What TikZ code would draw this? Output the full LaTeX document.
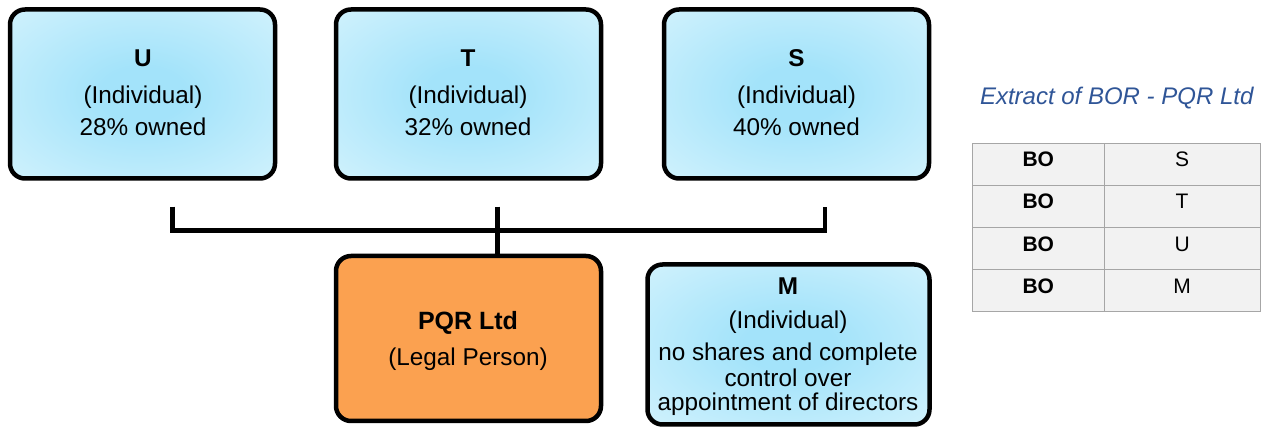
\documentclass[tikz,border=0pt]{standalone}
\usepackage{fontspec}
\setmainfont{Liberation Sans}
\usetikzlibrary{calc}

% colours
\definecolor{glowin}{RGB}{163,227,250}
\definecolor{glowout}{RGB}{228,248,254}
\definecolor{legalfill}{RGB}{251,161,80}
\definecolor{titleblue}{RGB}{47,85,151}
\definecolor{cellfill}{RGB}{242,242,242}
\definecolor{cellline}{RGB}{166,166,166}

% soft radial glow for the individual boxes
\pgfdeclareradialshading{boxglow}{\pgfpoint{0bp}{0bp}}{%
  color(0bp)=(glowin); color(8bp)=(glowin); color(48bp)=(glowout); color(72bp)=(glowout)}

\tikzset{
  boxline/.style={draw=black, line width=4.5pt, rounded corners=15pt},
  personbox/.style={boxline, shade, shading=boxglow, minimum width=265pt, minimum height=169pt},
  legalbox/.style={boxline, fill=legalfill, minimum width=265pt, minimum height=165pt},
  mbox/.style={boxline, shade, shading=boxglow, minimum width=282pt, minimum height=160pt},
  txt/.style={anchor=base, inner sep=0pt, font=\fontsize{24.3}{28}\selectfont},
  btxt/.style={txt, font=\fontsize{24.3}{28}\selectfont\bfseries},
  bus/.style={draw=black, line width=4.5pt, line cap=butt, line join=miter},
  cell/.style={draw=cellline, fill=cellfill, line width=1pt, inner sep=0pt,
    minimum height=42.1pt, text height=15pt, text depth=10pt,
    font=\fontsize{21}{24}\selectfont},
  keycell/.style={cell, minimum width=132pt, font=\fontsize{21}{24}\selectfont\bfseries},
  valcell/.style={cell, minimum width=155.7pt},
}

\begin{document}
\begin{tikzpicture}[x=1pt, y=-1pt]
\useasboundingbox (0,0) rectangle (1267,427);

% shareholders
\node[personbox] (U) at (142.5,94) {};
\node[btxt] (Uname) at (143,66.5) {U};
\node[txt] (Utype) at (143,104) {(Individual)};
\node[txt] (Ushare) at (143,135.5) {28\% owned};

\node[personbox] (T) at (468.5,94) {};
\node[btxt] (Tname) at (468,66.5) {T};
\node[txt] (Ttype) at (468,104) {(Individual)};
\node[txt] (Tshare) at (468,135.5) {32\% owned};

\node[personbox] (S) at (796.5,94) {};
\node[btxt] (Sname) at (796.5,66.5) {S};
\node[txt] (Stype) at (796.5,104) {(Individual)};
\node[txt] (Sshare) at (796.5,135.5) {40\% owned};

% the company
\node[legalbox] (P) at (468.5,338.5) {};
\node[btxt, font=\fontsize{25}{28}\selectfont\bfseries] (Pname) at (468,330) {PQR Ltd};
\node[txt] (Ptype) at (468,365.5) {(Legal Person)};

% controlling individual
\node[mbox] (M) at (788.5,344.5) {};
\node[btxt] (Mname) at (788,295) {M};
\node[txt] (Mtype) at (788,329) {(Individual)};
\node[txt] (Mdesc1) at (788,361) {no shares and complete};
\node[txt] (Mdesc2) at (788,387) {control over};
\node[txt] (Mdesc3) at (788,411) {appointment of directors};

% ownership bus
\coordinate (tickL) at (172.5,206.7);
\coordinate (busL) at (172.5,230.7);
\coordinate (tickR) at (825,206.7);
\coordinate (busR) at (825,230.7);
\coordinate (tickM) at (497.5,206.7);
\draw[bus] (tickL) -- (busL) -- (busR) -- (tickR);
\draw[bus] (tickM) -- (P.north -| tickM);

% register extract
\node[anchor=base, inner sep=0pt, text=titleblue, font=\fontsize{24}{27}\selectfont\itshape]
  (title) at (1116.7,105) {Extract of BOR - PQR Ltd};

\node[keycell] (k1) at (1038.3,164.35) {BO};
\node[valcell] (v1) at (1182.15,164.35) {S};
\node[keycell] (k2) at (1038.3,206.45) {BO};
\node[valcell] (v2) at (1182.15,206.45) {T};
\node[keycell] (k3) at (1038.3,248.55) {BO};
\node[valcell] (v3) at (1182.15,248.55) {U};
\node[keycell] (k4) at (1038.3,290.65) {BO};
\node[valcell] (v4) at (1182.15,290.65) {M};
\end{tikzpicture}
\end{document}
